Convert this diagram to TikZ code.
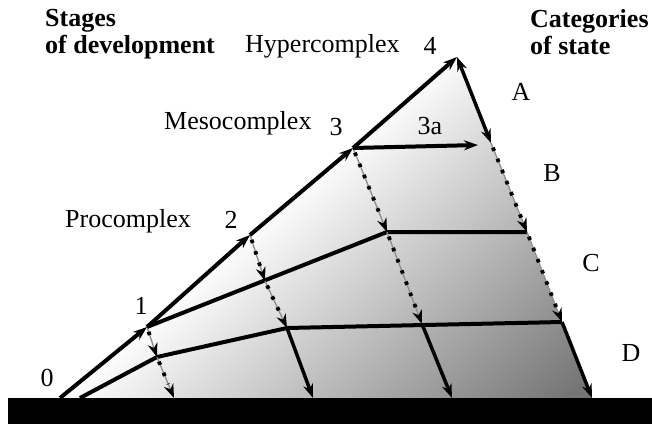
\documentclass[tikz,border=0pt]{standalone}
\usepackage{fontspec}
\setmainfont{Liberation Serif}
\usetikzlibrary{arrows.meta}
\tikzset{
  tip/.style={-{Stealth[length=14pt, width=10pt, color=black]}},
  stagearr/.style={tip, line width=4pt},
  solidarr/.style={tip, line width=3.5pt},
  dotarr/.style={tip, draw=black!45, line width=1.3pt,
                 postaction={draw=black, line width=3.8pt, dash pattern=on 3.5pt off 8.5pt,
                             shorten >=15pt, shorten <=5pt, -}},
  link/.style={line width=4pt, line join=round},
  lab/.style={font=\fontsize{26}{27}\selectfont, inner sep=0pt},
  head/.style={font=\fontsize{26}{27}\selectfont\bfseries, align=left, inner sep=0pt},
}
\begin{document}
\begin{tikzpicture}[x=1pt, y=-1pt]
\useasboundingbox (0,0) rectangle (652,425);

\coordinate (s0) at (60,398);
\coordinate (s1) at (147,327);
\coordinate (s2) at (250,235);
\coordinate (s3) at (353,148);
\coordinate (s4) at (457,57);
\coordinate (a3) at (478,145);
\coordinate (r1) at (491,143);
\coordinate (r2) at (527,232);
\coordinate (r3) at (562,322);
\coordinate (r4) at (592,398);
\coordinate (m2) at (387,232);
\coordinate (m3) at (422,324);
\coordinate (m4) at (452,398);
\coordinate (p1) at (265,281);
\coordinate (p2) at (287,328);
\coordinate (p3) at (313,398);
\coordinate (q1) at (157,357);
\coordinate (q2) at (174,398);
\coordinate (b0) at (80,398);
\coordinate (c0) at (337,376);

% shaded body
\begin{scope}
  \clip (s0) -- (s1) -- (s2) -- (s3) -- (s4) -- (r4) -- cycle;
  \shade[top color=white, bottom color=black!54,
         transform canvas={rotate around={42:(c0)}}]
    (c0) ++(-450,-170) rectangle ++(900,340);
  \fill[black!54, transform canvas={rotate around={42:(c0)}}]
    (c0) ++(-450,169) rectangle ++(900,200);
\end{scope}

% ground
\fill[black] (8,398) rectangle (652,424);

% cross links
\draw[link] (s1) -- (m2) -- (r2);
\draw[link] (b0) -- (q1) -- (p2) -- (r3);

% downward arrows
\draw[dotarr] (s1) -- (q1);
\draw[dotarr] (q1) -- (q2);
\draw[dotarr] (s2) -- (p1);
\draw[dotarr] (p1) -- (p2);
\draw[solidarr] (p2) -- (p3);
\draw[dotarr] (s3) -- (m2);
\draw[dotarr] (m2) -- (m3);
\draw[solidarr] (m3) -- (m4);
\draw[line width=3.5pt, {Stealth[length=14pt, width=10pt]}-{Stealth[length=14pt, width=10pt]}] (s4) -- (r1);
\draw[dotarr] (r1) -- (r2);
\draw[dotarr] (r2) -- (r3);
\draw[solidarr] (r3) -- (r4);

% stages
\draw[stagearr] (s0) -- (s1);
\draw[stagearr] (s1) -- (s2);
\draw[stagearr] (s2) -- (s3);
\draw[stagearr] (s3) -- (s4);
\draw[stagearr] (s3) -- (a3);

\node[lab] (l0) at (47,378) {0};
\node[lab] (l1) at (141,306) {1};
\node[lab] (l2) at (231,220) {2};
\node[lab] (l3) at (336,127) {3};
\node[lab] (l4) at (430,46) {4};
\node[lab] (l3a) at (430,126) {3a};
\node[lab] (ca) at (521,92) {A};
\node[lab] (cb) at (552,173) {B};
\node[lab] (cc) at (591,263) {C};
\node[lab] (cd) at (631,353) {D};
\node[lab, anchor=base west] (hyper) at (245,53) {Hypercomplex};
\node[lab, anchor=base west] (meso) at (164,129) {Mesocomplex};
\node[lab, anchor=base west] (pro) at (65,227) {Procomplex};
\node[head, anchor=base west] (stages) at (45,54) {Stages\\of development};
\node[head, anchor=base west] (cats) at (530,55) {Categories\\of state};
\end{tikzpicture}
\end{document}
